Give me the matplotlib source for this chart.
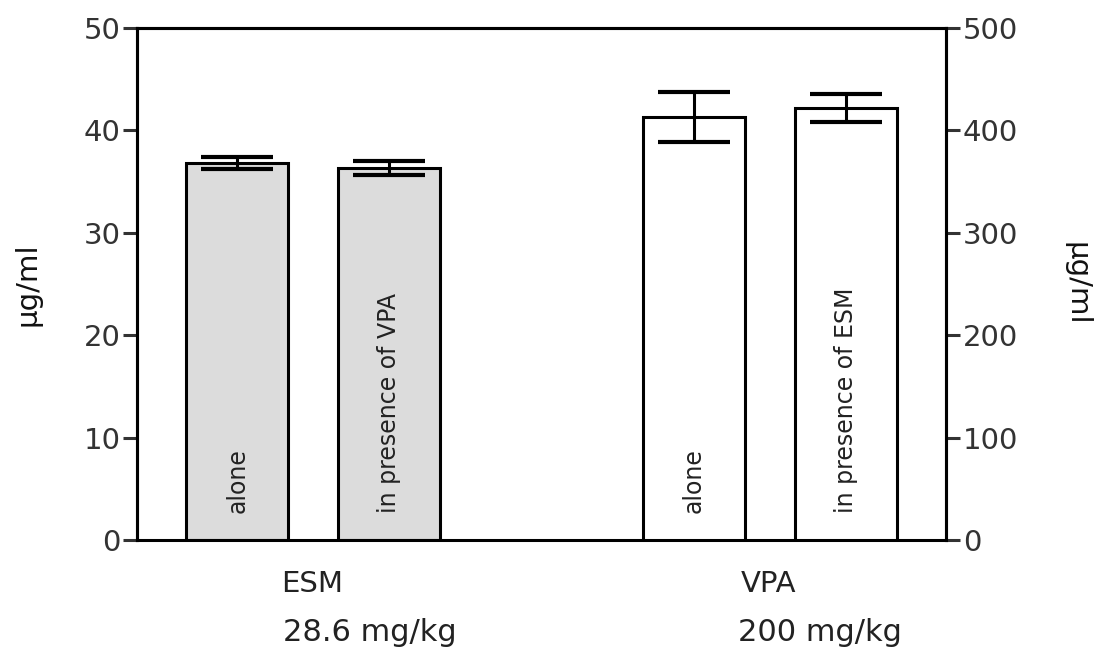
import matplotlib
matplotlib.use("Agg")
import matplotlib.pyplot as plt

# Data
groups = ["ESM", "VPA"]
doses = ["28.6 mg/kg", "200 mg/kg"]
bar_labels = ["alone", "in presence of VPA", "alone", "in presence of ESM"]
esm_means = [36.8, 36.3]        # µg/ml, left axis
esm_errs = [0.6, 0.7]
vpa_means = [413, 422]          # µg/ml, right axis
vpa_errs = [24.5, 13.5]
left_ticks = [0, 10, 20, 30, 40, 50]
right_ticks = [0, 100, 200, 300, 400, 500]

plt.rcParams['font.family'] = ['DejaVu Sans']

fig = plt.figure(figsize=(11.03, 6.57), dpi=100)
ax = fig.add_axes([137/1103, 1-540/657, (946-137)/1103, (540-28)/657])
ax2 = ax.twinx()

esm_x = [0.66, 1.66]
vpa_x = [3.66, 4.66]
width = 0.67

ax.bar(esm_x, esm_means, width=width, color="#dcdcdc", edgecolor="black", linewidth=2.2, zorder=2)
ax.errorbar(esm_x, esm_means, yerr=esm_errs, fmt="none", ecolor="black", elinewidth=2.2,
            capsize=26, capthick=3, zorder=3)
ax2.bar(vpa_x, vpa_means, width=width, color="white", edgecolor="black", linewidth=2.2, zorder=2)
ax2.errorbar(vpa_x, vpa_means, yerr=vpa_errs, fmt="none", ecolor="black", elinewidth=2.2,
             capsize=26, capthick=3, zorder=3)

ax.set_xlim(0, 5.32)
ax.set_ylim(0, 50)
ax2.set_ylim(0, 500)
ax.set_yticks(left_ticks)
ax.set_yticklabels([str(t) for t in left_ticks])
ax2.set_yticks(right_ticks)
ax2.set_yticklabels([str(t) for t in right_ticks])
ax.set_xticks([])

for a in (ax, ax2):
    for s in a.spines.values():
        s.set_linewidth(2.2)
    a.tick_params(axis="y", length=10, width=2.2, labelsize=21, pad=2, colors="#333333")
ax2.spines["bottom"].set_visible(False)

ax.set_ylabel("µg/ml", fontsize=21, labelpad=30, color="#111111")
ax2.set_ylabel("µg/ml", fontsize=21, rotation=270, labelpad=52, color="#111111")

# In-bar labels
for x, lab in zip(esm_x, bar_labels[:2]):
    ax.text(x, 2.6, lab, rotation=90, ha="center", va="bottom", fontsize=17, color="#222222", zorder=4)
for x, lab in zip(vpa_x, bar_labels[2:]):
    ax2.text(x, 26, lab, rotation=90, ha="center", va="bottom", fontsize=17, color="#222222", zorder=4)

# Group labels below
trans = ax.get_xaxis_transform()
ax.text(1.15, -0.085, groups[0], transform=trans, ha="center", va="center", fontsize=21, color="#222222")
ax.text(4.15, -0.085, groups[1], transform=trans, ha="center", va="center", fontsize=21, color="#222222")
ax.text(1.53, -0.18, doses[0], transform=trans, ha="center", va="center", fontsize=22, color="#222222")
ax.text(4.49, -0.18, doses[1], transform=trans, ha="center", va="center", fontsize=22, color="#222222")

fig.savefig("out.png", dpi=100)
